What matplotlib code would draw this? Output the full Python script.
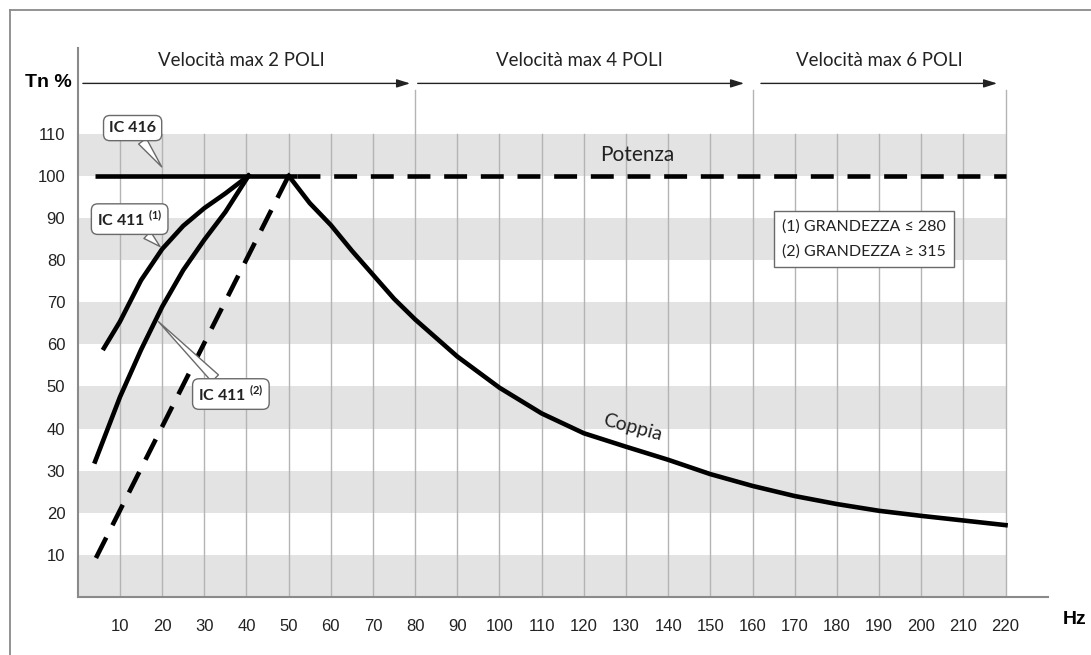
import numpy as np
import matplotlib.pyplot as plt
from matplotlib.lines import Line2D

plt.rcParams['mathtext.fontset'] = 'custom'
plt.rcParams['mathtext.rm'] = 'Lato'

# curve readings (Hz, Tn %)
coppia_hz = [50, 55, 60, 65, 70, 75, 80, 90, 100, 110, 120, 130, 140, 150, 160, 170, 180, 190, 200, 210, 220]
coppia_val = [100, 93.5, 88.3, 82.2, 76.5, 70.8, 65.9, 57.1, 49.7, 43.6, 38.9, 35.7, 32.6, 29.2, 26.4, 24.0, 22.1, 20.5, 19.3, 18.2, 17.1]

ic411_1_hz = [6.2, 10, 15, 20, 25, 30, 35, 40.5]
ic411_1_val = [59.1, 65.4, 75.2, 82.6, 88.1, 92.3, 95.8, 100]

ic411_2_hz = [4.1, 10, 15, 20, 25, 30, 35, 40.5]
ic411_2_val = [32.2, 47.5, 58.7, 68.9, 77.6, 84.8, 91.4, 100]

ic416_hz = [4.1, 52]
ic416_val = [100, 100]

potenza_hz = [52, 220]
potenza_val = [100, 100]

ic411_2_dash_hz = [4.3, 50]
ic411_2_dash_val = [9.3, 100]

x_ticks = list(range(10, 221, 10))
y_ticks = list(range(10, 111, 10))

# speed ranges: (start, end, label)
ranges = [(1.2, 78.8, "Velocità max 2 POLI"),
          (80.6, 158, "Velocità max 4 POLI"),
          (162, 218, "Velocità max 6 POLI")]
range_label_x = [38.8, 119, 190]

fig = plt.figure(figsize=(10.91, 6.55), dpi=100)
ax = fig.add_axes([77.8 / 1091, 57.8 / 655, 969.9 / 1091, 549.2 / 655])
ax.set_xlim(0, 230)
ax.set_ylim(0, 130.3)

# outer frame
fx = 10 / 1091
fy = 1 - 10 / 655
fig.add_artist(Line2D([fx, fx], [0, fy], color='#8a8a8a', lw=1.3))
fig.add_artist(Line2D([fx, 1], [fy, fy], color='#8a8a8a', lw=1.3))

# grey bands
for y0 in range(0, 110, 20):
    ax.fill_between([0, 220], y0, y0 + 10, color='#e3e3e3', lw=0, zorder=0)

# vertical grid
for xv in x_ticks:
    top = 120.4 if xv in (80, 160, 220) else 110
    ax.plot([xv, xv], [0, top], color='#b4b4b4', lw=1.0, zorder=1)

for s in ['top', 'right']:
    ax.spines[s].set_visible(False)
ax.spines['left'].set_color('#8a8a8a')
ax.spines['bottom'].set_color('#8a8a8a')
ax.spines['left'].set_linewidth(1.5)
ax.spines['bottom'].set_linewidth(1.5)

ax.set_xticks(x_ticks)
ax.set_yticks(y_ticks)
ax.tick_params(length=0, labelsize=12, colors='#222222')
ax.tick_params(axis='x', pad=16)
ax.tick_params(axis='y', pad=9)
for lab in ax.get_xticklabels() + ax.get_yticklabels():
    lab.set_fontfamily('Liberation Sans')

# curves
lw = 3.3
ax.plot(ic416_hz, ic416_val, color='black', lw=lw, solid_capstyle='butt', zorder=3)
ax.plot(potenza_hz, potenza_val, color='black', lw=lw, dashes=(5, 3), zorder=3)
for xs, ys in [(coppia_hz, coppia_val), (ic411_1_hz, ic411_1_val), (ic411_2_hz, ic411_2_val)]:
    ax.plot(xs, ys, color='black', lw=lw, solid_joinstyle='round', zorder=3)
ax.plot(ic411_2_dash_hz, ic411_2_dash_val, color='black', lw=lw, dashes=(5, 3), zorder=3)

# speed range arrows
for (a, b, lab), lx in zip(ranges, range_label_x):
    ax.annotate('', xy=(b, 121.9), xytext=(a, 121.9),
                arrowprops=dict(arrowstyle='-|>,head_length=0.8,head_width=0.25',
                                color='#222222', lw=1.0, shrinkA=0, shrinkB=0),
                annotation_clip=False)
    ax.text(lx, 127.4, lab, ha='center', va='center', fontsize=13.4,
            fontfamily='Lato', color='#222222')

ax.text(-1.4, 122.2, "Tn %", ha='right', va='center', fontsize=14,
        fontweight='bold', fontfamily='Liberation Sans')
ax.text(236.5, -5.4, "Hz", ha='center', va='center', fontsize=14,
        fontweight='bold', fontfamily='Liberation Sans', clip_on=False)

ax.text(132.6, 104.9, "Potenza", ha='center', va='center', fontsize=15,
        fontfamily='Lato', color='#222222')
ax.text(131.5, 40.2, "Coppia", ha='center', va='center', fontsize=14,
        fontfamily='Lato', color='#222222', rotation=-15)

# callouts
box = dict(boxstyle='round,pad=0.35,rounding_size=0.4', fc='white', ec='#6a6a6a', lw=1.0)
wedge = dict(arrowstyle='wedge,tail_width=0.6,shrink_factor=0.5', fc='white',
             ec='#6a6a6a', lw=1.0, shrinkA=0, shrinkB=0)
callouts = [("IC 416", (19.9, 102.1), (13.0, 111.3)),
            (r"IC 411 $^{\mathregular{(1)}}$", (19.5, 83.2), (12.3, 89.7)),
            (r"IC 411 $^{\mathregular{(2)}}$", (19.1, 65.4), (36.3, 48.2))]
for txt, tip, pos in callouts:
    ax.annotate(txt, xy=tip, xytext=pos, ha='center', va='center', fontsize=11.5,
                fontweight='bold', fontfamily='Lato', color='#222222',
                bbox=box, arrowprops=wedge, zorder=5)

# size note
ax.text(167, 85, "(1) GRANDEZZA ≤ 280\n(2) GRANDEZZA ≥ 315", ha='left', va='center',
        fontsize=11.5, fontfamily=['Lato', 'DejaVu Sans'], color='#222222', linespacing=2.0,
        bbox=dict(boxstyle='square,pad=0.5', fc='white', ec='#6a6a6a', lw=1.0), zorder=5)

fig.savefig('out.png', dpi=100)
